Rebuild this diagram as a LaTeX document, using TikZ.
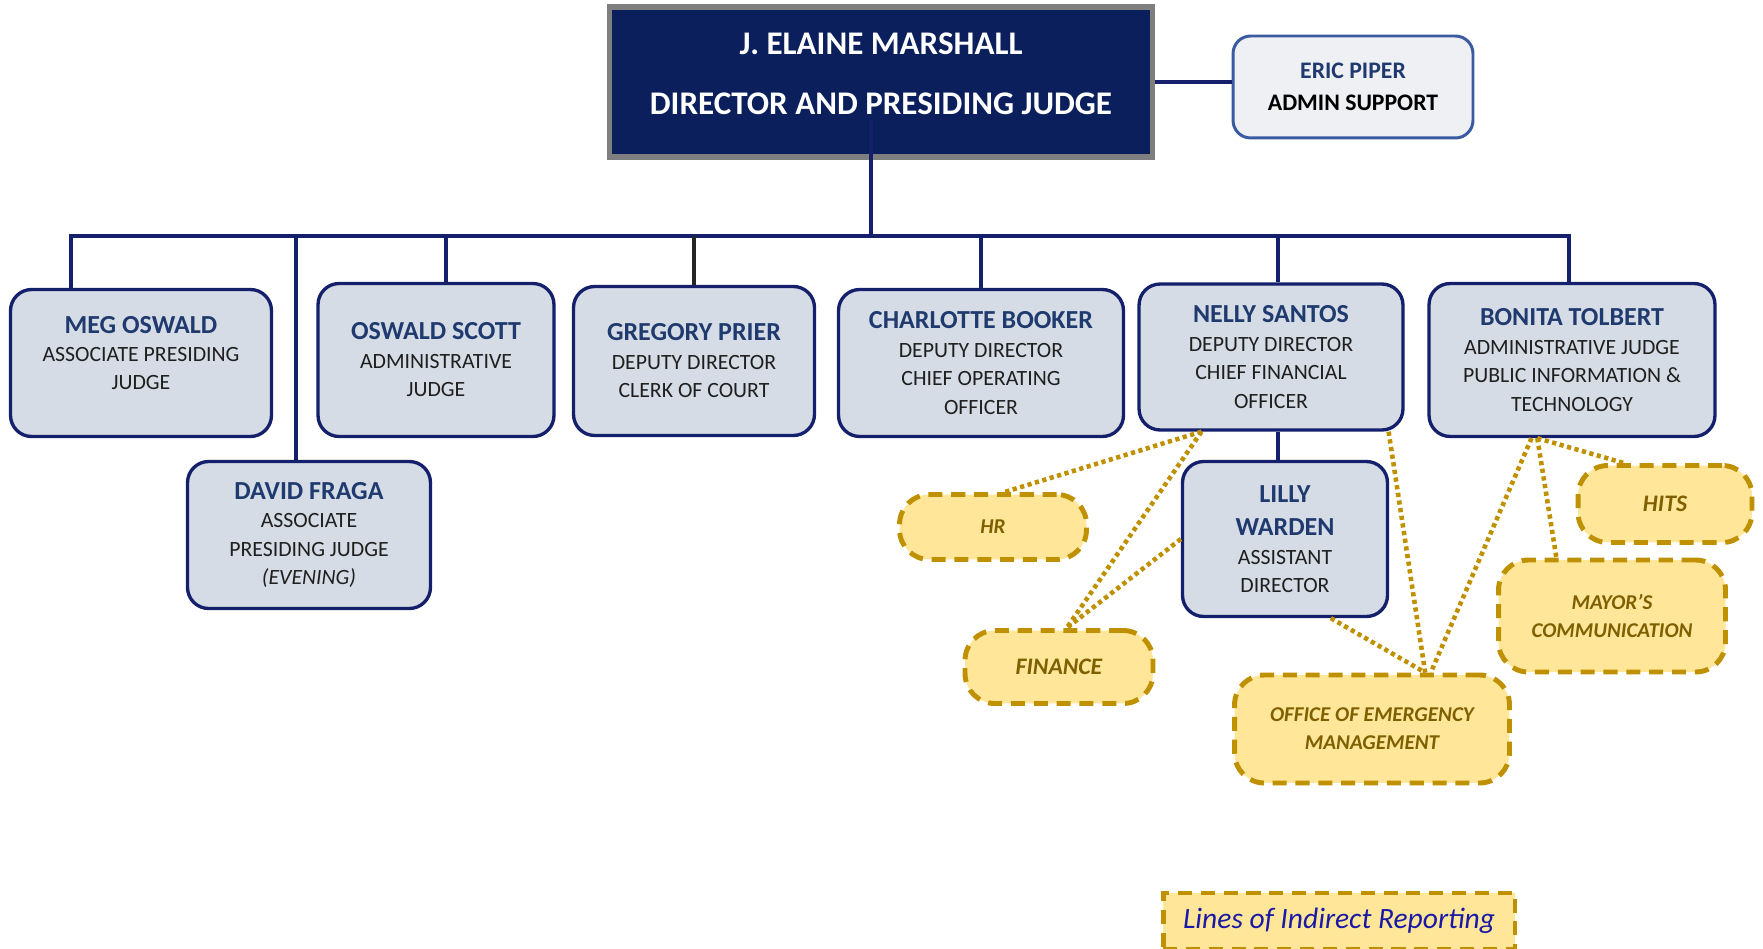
\documentclass[tikz,border=0pt]{standalone}
\usepackage{fontspec}
\setmainfont{Carlito}
\usetikzlibrary{positioning,calc}
\definecolor{chiefFill}{HTML}{0A1F5C}
\definecolor{chiefBorder}{HTML}{7F7F7F}
\definecolor{lineNavy}{HTML}{14206B}
\definecolor{personFill}{HTML}{D6DCE5}
\definecolor{nameBlue}{HTML}{1F3A6E}
\definecolor{supportFill}{HTML}{EEF0F4}
\definecolor{supportBorder}{HTML}{3A5BA0}
\definecolor{noteFill}{HTML}{FFE699}
\definecolor{noteBorder}{HTML}{BF9000}
\definecolor{noteText}{HTML}{7F6000}
\definecolor{legendText}{HTML}{1A1AA6}

\newcommand{\who}[1]{{\fontsize{14.8}{17}\selectfont\bfseries\color{nameBlue}#1}}

\begin{document}
\begin{tikzpicture}[
    x=0.02cm, y=-0.02cm,
    chief/.style={
        rectangle, draw=chiefBorder, fill=chiefFill,
        minimum width=10.86cm, minimum height=3cm,
        align=center, line width=3.2pt, text=white, text depth=0.34cm,
        font=\fontsize{18.8}{22}\selectfont\bfseries
    },
    support/.style={
        rectangle, draw=supportBorder, fill=supportFill,
        minimum width=4.8cm, minimum height=2.04cm,
        align=center, rounded corners=10pt, line width=1.7pt,
        font=\fontsize{13.5}{18}\selectfont\bfseries
    },
    person/.style={
        rectangle, draw=lineNavy, fill=personFill,
        align=center, rounded corners=12pt, line width=1.9pt,
        inner sep=0pt, text=black!88,
        font=\fontsize{12.4}{16.2}\selectfont
    },
    note/.style={
        rectangle, draw=noteBorder, fill=noteFill,
        align=center, rounded corners=17pt, line width=2.8pt,
        dash pattern=on 8pt off 5pt, inner sep=0pt, text=noteText,
        font=\fontsize{12}{16}\selectfont\bfseries\itshape
    },
    tree/.style={draw=lineNavy, line width=2.6pt},
    indirect/.style={draw=noteBorder, line width=2.6pt, dash pattern=on 2.4pt off 2pt}
]
  \useasboundingbox (0,0) rectangle (1763,949);

  % Nodes
  \node[chief] (top) at (881,82) {J. ELAINE MARSHALL\\[12pt]DIRECTOR AND PRESIDING JUDGE};
  \node[support] (eric) at (1353,87) {\textcolor{nameBlue}{ERIC PIPER}\\ADMIN SUPPORT};

  \node[person, minimum width=5.22cm, minimum height=2.94cm, text depth=0.4cm] (meg) at (141,363)
      {\who{MEG OSWALD}\\ASSOCIATE PRESIDING\\JUDGE};
  \node[person, minimum width=4.72cm, minimum height=3.06cm] (oswald) at (436,360)
      {\who{OSWALD SCOTT}\\ADMINISTRATIVE\\JUDGE};
  \node[person, minimum width=4.82cm, minimum height=2.98cm] (gregory) at (694,361)
      {\who{GREGORY PRIER}\\DEPUTY DIRECTOR\\CLERK OF COURT};
  \node[person, minimum width=5.7cm, minimum height=2.94cm] (charlotte) at (981,363)
      {\who{CHARLOTTE BOOKER}\\DEPUTY DIRECTOR\\CHIEF OPERATING\\OFFICER};
  \node[person, minimum width=5.28cm, minimum height=2.92cm] (nelly) at (1271,357)
      {\who{NELLY SANTOS}\\DEPUTY DIRECTOR\\CHIEF FINANCIAL\\OFFICER};
  \node[person, minimum width=5.72cm, minimum height=3.06cm] (bonita) at (1572,360)
      {\who{BONITA TOLBERT}\\ADMINISTRATIVE JUDGE\\PUBLIC INFORMATION \&\\TECHNOLOGY};
  \node[person, minimum width=4.86cm, minimum height=2.94cm] (david) at (309,535)
      {\who{DAVID FRAGA}\\ASSOCIATE\\PRESIDING JUDGE\\\textit{(EVENING)}};
  \node[person, minimum width=4.1cm, minimum height=3.1cm] (lilly) at (1285,539)
      {\who{LILLY}\\[3pt]\who{WARDEN}\\ASSISTANT\\DIRECTOR};

  \node[note, minimum width=3.74cm, minimum height=1.3cm] (hr) at (993,527) {HR};
  \node[note, minimum width=3.76cm, minimum height=1.46cm,
        font=\fontsize{13.5}{16}\selectfont\bfseries\itshape] (finance) at (1059,667) {FINANCE};
  \node[note, minimum width=5.5cm, minimum height=2.16cm] (oem) at (1372,729)
      {OFFICE OF EMERGENCY\\MANAGEMENT};
  \node[note, minimum width=3.48cm, minimum height=1.54cm,
        font=\fontsize{13.5}{16}\selectfont\bfseries\itshape] (hits) at (1665,504) {HITS};
  \node[note, minimum width=4.54cm, minimum height=2.24cm] (mayor) at (1612,616)
      {MAYOR'S\\COMMUNICATION};

  \node[note, rounded corners=0pt, minimum width=7.04cm, minimum height=1.12cm,
        text=legendText, font=\fontsize{16.8}{19}\selectfont\itshape] (legend) at (1339,921)
      {Lines of Indirect Reporting};

  % Direct reporting
  \coordinate (busL) at (71,236);
  \coordinate (busR) at (1569,236);
  \coordinate (busD) at (296,236);
  \coordinate (oswaldDrop) at ([xshift=0.2cm]oswald.north);
  \coordinate (nellyDrop) at ([xshift=0.14cm]nelly.north);
  \coordinate (lillyDrop) at ([xshift=0.14cm]nelly.south);
  \draw[tree] (top.east) -- (top.east -| eric.west);
  \draw[tree] ([xshift=-0.2cm,yshift=0.8cm]top.south) coordinate (stem) -- (stem |- busL);
  \draw[tree] (busL |- meg.north) -- (busL) -- (busR) -- (busR |- bonita.north);
  \draw[tree] (busD) -- (busD |- david.north);
  \draw[tree] (oswaldDrop) -- (oswaldDrop |- busL);
  \draw[tree, draw=black!85] (gregory.north) -- (gregory.north |- busL);
  \draw[tree] (charlotte.north) -- (charlotte.north |- busL);
  \draw[tree] (nellyDrop) -- (nellyDrop |- busL);
  \draw[tree] (lillyDrop) -- (lillyDrop |- lilly.north);

  % Indirect reporting
  \draw[indirect] ($(nelly.south west)!0.24!(nelly.south east)$) -- ($(hr.north west)!0.56!(hr.north east)$);
  \draw[indirect] ($(nelly.south west)!0.24!(nelly.south east)$) -- ($(finance.north west)!0.54!(finance.north east)$);
  \draw[indirect] (lilly.west) -- ($(finance.north west)!0.54!(finance.north east)$);
  \draw[indirect] ($(nelly.south west)!0.94!(nelly.south east)$) -- ($(oem.north west)!0.69!(oem.north east)$);
  \draw[indirect] ($(lilly.south west)!0.72!(lilly.south east)$) -- ($(oem.north west)!0.69!(oem.north east)$);
  \draw[indirect] ($(bonita.south west)!0.36!(bonita.south east)$) -- ($(oem.north west)!0.71!(oem.north east)$);
  \draw[indirect] ($(bonita.south west)!0.38!(bonita.south east)$) -- ($(mayor.north west)!0.26!(mayor.north east)$);
  \draw[indirect] ($(bonita.south west)!0.38!(bonita.south east)$) -- ($(hits.north west)!0.27!(hits.north east)$);

\end{tikzpicture}
\end{document}
